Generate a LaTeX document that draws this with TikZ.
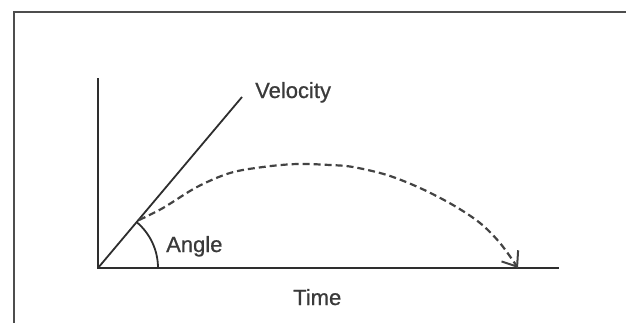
\documentclass[tikz,border=0pt]{standalone}
\usepackage{fontspec}
\setmainfont{Liberation Sans}
\newfontfamily\lblfont{Liberation Sans}[FakeBold=0.7]
\usetikzlibrary{arrows.meta}
\definecolor{ink}{HTML}{2e2e2e}
\definecolor{txt}{HTML}{3a3a3a}
\tikzset{
  axisline/.style={draw=ink, line width=2.4pt},
  velline/.style={draw=ink, line width=1.8pt},
  frameline/.style={draw=ink!85, line width=2.2pt},
  pathline/.style={draw=ink!90, line width=2.2pt, dash pattern=on 7pt off 4pt},
  lbl/.style={text=txt, font=\lblfont\fontsize{22}{26}\selectfont, inner sep=0pt, anchor=base west}
}
\begin{document}
\begin{tikzpicture}[x=1pt,y=1pt]
\useasboundingbox (0,0) rectangle (626,322);
% frame
\draw[frameline] (14,-3) -- (14,310) -- (630,310);
% coordinates
\coordinate (O) at (98,54);
\coordinate (ytop) at (98,244);
\coordinate (xend) at (559,54);
\coordinate (vend) at (242,225);
% axes
\draw[axisline] (ytop) -- (O) -- (xend);
\draw[velline] (O) -- (vend);
% angle arc
\draw[velline] (158,54) arc[start angle=0, end angle=49.9, radius=60];
% trajectory
\draw[pathline, -{Straight Barb[length=13pt, width=20pt, line width=2pt]}]
  plot[smooth, tension=0.55] coordinates {(139,102) (163,114) (197,135) (230,149) (263,155) (297,158) (330,157) (353,155) (387,147) (420,134) (453,117) (480,99) (500,79) (518,54)};
% labels
\node[lbl] (vel) at (255,224) {Velocity};
\node[lbl] (ang) at (166,70) {Angle};
\node[lbl] (time) at (293,17) {Time};
\end{tikzpicture}
\end{document}
